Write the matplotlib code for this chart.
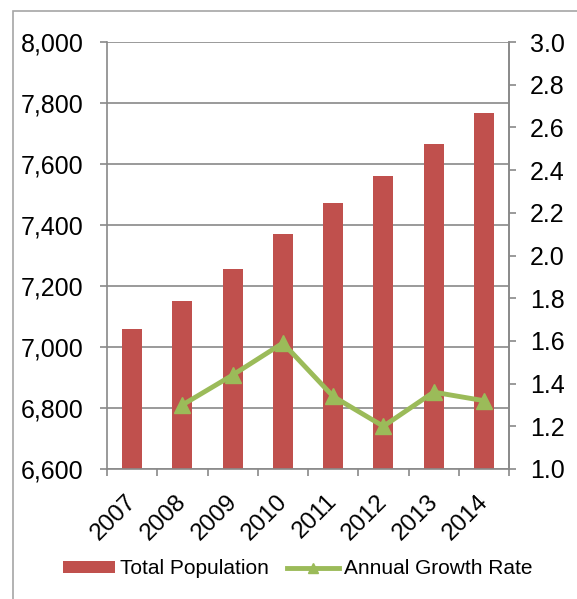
import matplotlib.pyplot as plt
from matplotlib.patches import Rectangle
from matplotlib.transforms import ScaledTranslation

years = ['2007', '2008', '2009', '2010', '2011', '2012', '2013', '2014']
population = [7060, 7152, 7256, 7370, 7472, 7562, 7666, 7768]
growth_years = ['2008', '2009', '2010', '2011', '2012', '2013', '2014']
growth = [1.30, 1.44, 1.59, 1.34, 1.20, 1.36, 1.32]


def main():
    plt.rcParams['font.family'] = ['Liberation Sans', 'DejaVu Sans']
    grey = '#898989'

    fig = plt.figure(figsize=(5.77, 5.99), dpi=100)
    # chart frame
    fig.patches.append(Rectangle((13 / 577, -0.1), 1.0, 1 - 11 / 599 + 0.1,
                                 transform=fig.transFigure, fill=False,
                                 edgecolor='#a6a6a6', linewidth=1.2))

    ax = fig.add_axes([107 / 577, 1 - 469 / 599, 402 / 577, 427 / 599])
    x = list(range(len(years)))
    ax.bar(x, population, width=0.4, color='#C0504D', zorder=2,
           label='Total Population')
    ax.set_ylim(6600, 8000)
    ax.set_yticks(range(6600, 8001, 200))
    ax.set_yticklabels([f'{v:,}' for v in range(6600, 8001, 200)])
    ax.set_xlim(-0.5, len(years) - 0.5)
    ax.set_xticks(x)
    ax.set_xticklabels(years, rotation=45, ha='right', rotation_mode='anchor')
    ax.set_xticks([i - 0.5 for i in range(len(years) + 1)], minor=True)
    ax.tick_params(axis='x', which='major', length=0, pad=14, labelsize=17.5)
    ax.tick_params(axis='x', which='minor', length=5, color=grey, width=1.2)
    ax.tick_params(axis='y', length=5, color=grey, width=1.2, labelsize=18, pad=12)
    # shift the year labels a bit left, like the original
    shift = ScaledTranslation(-7 / 100, -2 / 100, fig.dpi_scale_trans)
    for lbl in ax.get_xticklabels():
        lbl.set_transform(lbl.get_transform() + shift)
    ax.grid(axis='y', color=grey, linewidth=1.2, zorder=0)
    ax.set_axisbelow(True)
    ax.spines['top'].set_visible(False)
    for s in ['left', 'bottom', 'right']:
        ax.spines[s].set_color(grey)
        ax.spines[s].set_linewidth(1.2)

    ax2 = ax.twinx()
    gx = [years.index(y) for y in growth_years]
    ax2.plot(gx, growth, color='#9BBB59', linewidth=3.5, marker='^',
             markersize=12, zorder=3, label='Annual Growth Rate')
    ax2.set_ylim(1.0, 3.0)
    ax2.set_yticks([1.0 + 0.2 * i for i in range(11)])
    ax2.set_yticklabels([f'{1.0 + 0.2 * i:.1f}' for i in range(11)])
    ax2.tick_params(axis='y', length=5, color=grey, width=1.2, labelsize=18, pad=10)
    for s in ['top', 'left', 'bottom']:
        ax2.spines[s].set_visible(False)
    ax2.spines['right'].set_color(grey)
    ax2.spines['right'].set_linewidth(1.2)

    h1, l1 = ax.get_legend_handles_labels()
    h2, l2 = ax2.get_legend_handles_labels()
    fig.legend(h1 + h2, l1 + l2, loc='center', bbox_to_anchor=(0.516, 1 - 569 / 599),
               ncol=2, frameon=False, fontsize=15, handlelength=2.5,
               handleheight=0.55, handletextpad=0.25, columnspacing=0.85,
               markerscale=0.6, borderpad=0, borderaxespad=0)

    fig.savefig('out.png', dpi=100)


if __name__ == '__main__':
    main()
